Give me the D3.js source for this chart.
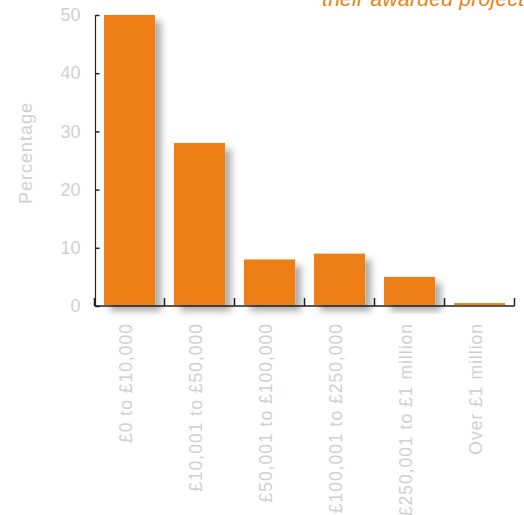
<!DOCTYPE html>
<html><head><meta charset="utf-8">
<script src="https://cdn.jsdelivr.net/npm/d3@7"></script>
<style>html,body{margin:0;padding:0;background:#fff;overflow:hidden}</style>
</head><body>
<svg id="chart" width="524" height="515"></svg>
<script>
const categories = ["£0 to £10,000","£10,001 to £50,000","£50,001 to £100,000","£100,001 to £250,000","£250,001 to £1 million","Over £1 million"];
const values = [50, 28, 8, 9, 5, 0.5];
const yTicks = [0, 10, 20, 30, 40, 50];
const titleText = "their awarded project";
const yLabel = "Percentage";

const svg = d3.select("#chart");
const font = "'Liberation Sans', Arial, Helvetica, sans-serif";
const orange = "#EE7F12";
const grey = "#d0d0d0";

const defs = svg.append("defs");
const f = defs.append("filter").attr("id","sh").attr("x","-20%").attr("y","-20%").attr("width","150%").attr("height","150%");
f.append("feDropShadow").attr("dx",6).attr("dy",6).attr("stdDeviation",3.5).attr("flood-color","#000").attr("flood-opacity",0.33);

const x = d3.scaleBand().domain(categories).range([94.5, 514.5]).padding(0);
const y = d3.scaleLinear().domain([0, 50]).range([306, 15]);

// title fragment (cut at the top edge, as in the reference)
svg.append("text").attr("x", 322).attr("y", 6)
  .attr("font-family", font).attr("font-style","italic").attr("font-size", 21)
  .attr("letter-spacing", 0.3)
  .attr("fill", orange).text(titleText);

// y axis
const yAxis = svg.append("g").attr("transform","translate(95.5,0)")
  .call(d3.axisLeft(y).tickValues(yTicks).tickSize(0).tickPadding(15));
yAxis.select(".domain").attr("stroke","#222").attr("stroke-width",1.2).attr("d", `M0,${y(50)}V${y(0)}`);
yAxis.selectAll(".tick text").attr("font-family", font).attr("font-size", 18).attr("fill", grey);
yAxis.selectAll(".tick").append("line").attr("x1",0).attr("x2",4).attr("stroke","#222").attr("stroke-width",1.5);

// x axis
const xAxis = svg.append("g").attr("transform",`translate(0,${y(0)})`);
xAxis.append("line").attr("x1", 94.5).attr("x2", 514.5).attr("stroke","#222").attr("stroke-width",1.5);
const bounds = categories.map(c => x(c)).concat([x(categories[categories.length-1]) + x.step()]);
xAxis.selectAll("line.tk").data(bounds).join("line").attr("class","tk")
  .attr("x1", d => d).attr("x2", d => d).attr("y1", 0).attr("y2", -8)
  .attr("stroke","#222").attr("stroke-width",1.5);

// bars
svg.append("g").selectAll("rect").data(values).join("rect")
  .attr("x", (d,i) => x(categories[i]) + 9.5)
  .attr("width", x.bandwidth() * 0.73)
  .attr("y", d => y(d))
  .attr("height", d => y(0) - y(d) - 1)
  .attr("fill", orange)
  .attr("filter","url(#sh)");

// x labels
svg.append("g").selectAll("text").data(categories).join("text")
  .attr("transform", d => `translate(${x(d) + x.bandwidth()/2 + 2},323) rotate(-90)`)
  .attr("text-anchor","end")
  .attr("font-family", font).attr("font-size", 17.5).attr("letter-spacing", 1)
  .attr("fill", grey)
  .text(d => d);

// y label
svg.append("text").attr("transform","translate(32,153) rotate(-90)")
  .attr("text-anchor","middle").attr("font-family", font).attr("font-size", 18)
  .attr("letter-spacing", 1)
  .attr("fill", grey).text(yLabel);
</script>
</body></html>
